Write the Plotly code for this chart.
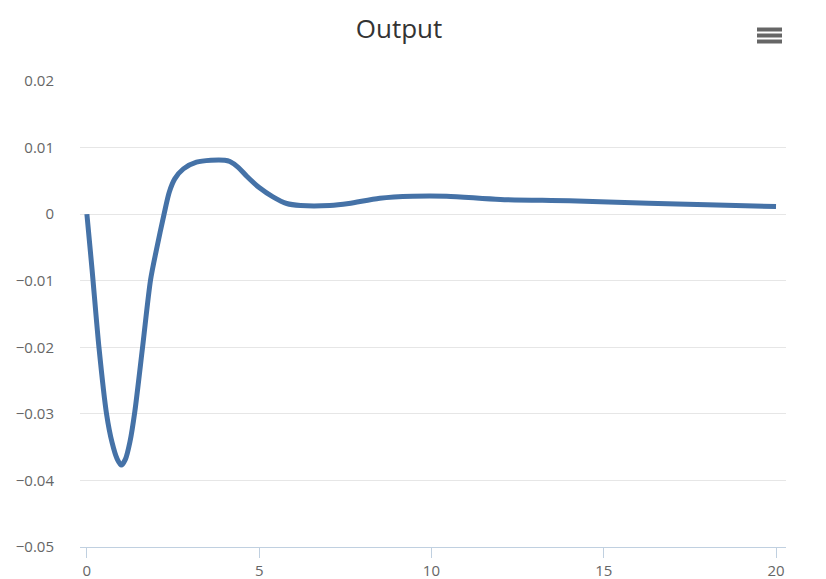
import plotly.graph_objects as go

# time axis and output response
t = [0, 0.15, 0.35, 0.57, 0.73, 0.88, 1.0, 1.12, 1.25, 1.39, 1.62, 1.85, 2.02,
     2.24, 2.39, 2.55, 2.8, 3.18, 3.6, 4.0, 4.15, 4.4, 4.64, 5.0,
     5.4, 5.8, 6.2, 7.05, 7.6, 8.5, 9.46, 10.44, 12.0, 14.0, 16.3, 18.0, 20.0]
output = [0, -0.0083, -0.0200, -0.0300, -0.0343, -0.0368, -0.0377, -0.0368,
          -0.0342, -0.0297, -0.0198, -0.0098, -0.0053, 0.0, 0.0033,
          0.0053, 0.0068, 0.0078, 0.0081, 0.0081, 0.0079, 0.0070,
          0.0057, 0.0040, 0.0026, 0.0016, 0.0013, 0.0013, 0.0016, 0.0024,
          0.0027, 0.0027, 0.0022, 0.0020, 0.00165, 0.0014, 0.00115]

x_ticks = [0, 5, 10, 15, 20]
y_ticks = [-0.05, -0.04, -0.03, -0.02, -0.01, 0, 0.01, 0.02]

# page body has an 8px margin, so the figure is drawn 8px smaller and offset
off = 8
W, H = 826 - off, 579 - off
ml, mr, mt, mb = 80 - off, 40, 81 - off, 32

fig = go.Figure()
fig.add_trace(go.Scatter(x=t, y=output, mode="lines",
                         line=dict(color="#4572A7", width=5, shape="spline", smoothing=0.8),
                         hoverinfo="x+y", showlegend=False))

# export menu icon (three bars), positions in page pixels
def px(x):
    return (x - off - ml) / (W - ml - mr)

def py(y):
    return (H - mb - (y - off)) / (H - mt - mb)

shapes = []
for cy in [29.5, 35.5, 41.5]:
    shapes.append(dict(type="rect", xref="paper", yref="paper",
                       x0=px(757), x1=px(782), y0=py(cy + 2), y1=py(cy - 2),
                       fillcolor="#666666", line=dict(width=0)))

fig.update_layout(
    width=W, height=H,
    margin=dict(l=ml, r=mr, t=mt, b=mb),
    paper_bgcolor="white", plot_bgcolor="white",
    font=dict(family="Open Sans", color="#666666", size=15),
    title=dict(text="Output", x=(399 - off) / W, xanchor="center", xref="container",
               y=1 - (29 - off) / H, yanchor="middle", yref="container",
               font=dict(size=26, color="#333333", family="Open Sans")),
    shapes=shapes,
    xaxis=dict(range=[-0.2, 20.29], tickvals=x_ticks, showgrid=False, zeroline=False,
               showline=True, linecolor="#C0D0E0", linewidth=1, automargin=False,
               ticks="outside", ticklen=10, tickcolor="#C0D0E0", tickwidth=1,
               tickfont=dict(size=15, color="#666666")),
    yaxis=dict(range=[-0.05, 0.02], tickvals=y_ticks, showgrid=True, gridcolor="#E6E6E6",
               gridwidth=1, zeroline=False, showline=False, ticks="", automargin=False,
               ticklabelstandoff=25, tickfont=dict(size=15, color="#666666")),
)

fig.write_html("out.html")
